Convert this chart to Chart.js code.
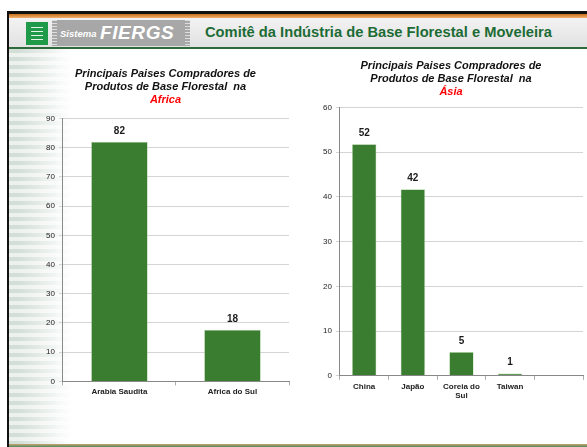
<!DOCTYPE html>
<html lang="pt-BR">
<head>
  <meta charset="UTF-8">
  <title>Comitê da Indústria de Base Florestal e Moveleira</title>
  <script src="https://cdn.jsdelivr.net/npm/chart.js"></script>
  <style>
    html, body { margin: 0; padding: 0; background: #fff; }
    body { width: 587px; height: 447px; position: relative; overflow: hidden; font-family: "Liberation Sans", Arial, sans-serif; }
    #frame-left { position: absolute; left: 7px; top: 11px; width: 2px; height: 436px; background: #111; }
    #frame-top { position: absolute; left: 7px; top: 11px; width: 580px; height: 3px; background: #111; }
    #frame-orange { position: absolute; left: 9px; top: 14px; width: 578px; height: 4px; background: linear-gradient(#c8701c, #f0b070); }
    #header { position: absolute; left: 9px; top: 18px; width: 578px; height: 29px; background: linear-gradient(#f2f2f2, #e2e2e2); }
    #header-line { position: absolute; left: 9px; top: 47px; width: 578px; height: 2px; background: #2e6b3c; }
    #stripes { position: absolute; left: 9px; top: 49px; width: 62px; height: 395px;
      background: repeating-linear-gradient(180deg, rgba(200,214,205,0.8) 0 4px, rgba(232,238,234,0.8) 4px 8px);
      -webkit-mask-image: linear-gradient(90deg, #000 15%, transparent 100%); mask-image: linear-gradient(90deg, #000 15%, transparent 100%); }
    #bottom-line { position: absolute; left: 9px; top: 444px; width: 578px; height: 3px; background: linear-gradient(#c9a46c, #4f8a63); }
    #logo-green { position: absolute; left: 26px; top: 22px; width: 22px; height: 23px; background: #1e9a48; }
    #logo-green i { position: absolute; left: 5px; width: 12px; height: 1px; background: #e8f4ea; }
    #logo-box { position: absolute; left: 52px; top: 20px; width: 138px; height: 26px; background: #a7a7a7; color: #fff; font-style: italic; font-weight: bold; }
    #logo-box .s { position: absolute; left: 8px; top: 8px; font-size: 9.5px; }
    #logo-box .f { position: absolute; left: 48px; top: 2px; font-size: 19px; letter-spacing: 0.6px; }
    #logo-box .r { position: absolute; right: 0; top: 0; width: 5px; height: 26px; background: repeating-linear-gradient(180deg, #ddd 0 1px, #a7a7a7 1px 3px); }
    #logo-box .l { position: absolute; left: 0; top: 0; width: 5px; height: 26px; background: repeating-linear-gradient(180deg, #ddd 0 1px, #a7a7a7 1px 3px); }
    #head-title { position: absolute; left: 205px; top: 24px; font-size: 14.7px; font-weight: bold; color: #1d6b35; white-space: nowrap; }
    .chart-box { position: absolute; }
    #box-africa { left: 28px; top: 58px; width: 268px; height: 349px; }
    #box-asia { left: 306px; top: 52px; width: 281px; height: 359px; }
  </style>
</head>
<body>
  <div id="frame-top"></div>
  <div id="frame-orange"></div>
  <div id="header"></div>
  <div id="header-line"></div>
  <div id="stripes"></div>
  <div id="frame-left"></div>
  <div id="bottom-line"></div>
  <div id="logo-green"><i style="top:5px"></i><i style="top:9px"></i><i style="top:13px"></i><i style="top:17px"></i></div>
  <div id="logo-box"><div class="l"></div><span class="s">Sistema</span><span class="f">FIERGS</span><div class="r"></div></div>
  <div id="head-title">Comitê da Indústria de Base Florestal e Moveleira</div>

  <div class="chart-box" id="box-africa"><canvas id="chart-africa"></canvas></div>
  <div class="chart-box" id="box-asia"><canvas id="chart-asia"></canvas></div>

  <script>
    // dados
    const africaPaises = ['Arabia Saudita', 'Africa do Sul'];
    const africaValores = [82, 17.6];
    const asiaPaises = ['China', 'Japão', ['Coreia do', 'Sul'], 'Taiwan', ''];
    const asiaValores = [51.8, 41.7, 5.3, 0.5, null];

    const titulo = ['Principais Paises Compradores de', 'Produtos de Base Florestal  na'];
    const verde = '#3b7d30';
    const fonte = '"Liberation Sans", Arial, sans-serif';

    // escreve o valor em cima de cada barra
    const rotulos = {
      id: 'rotulos',
      afterDatasetsDraw(chart) {
        const ctx = chart.ctx;
        const meta = chart.getDatasetMeta(0);
        ctx.save();
        ctx.font = 'bold 10px ' + fonte;
        ctx.fillStyle = '#1a1a1a';
        ctx.textAlign = 'center';
        ctx.textBaseline = 'bottom';
        meta.data.forEach((bar, i) => {
          const v = chart.data.datasets[0].data[i];
          if (v == null) return;
          ctx.fillText(Math.max(1, Math.round(v)), bar.x, bar.y - 6);
        });
        ctx.restore();
      }
    };

    function montar(id, labels, data, max, regiao, pad, subPad) {
      return new Chart(document.getElementById(id), {
        type: 'bar',
        data: {
          labels,
          datasets: [{ data, backgroundColor: verde, borderColor: '#a9cf9c', borderWidth: 0.6, categoryPercentage: 1, barPercentage: 0.5 }]
        },
        options: {
          responsive: true,
          maintainAspectRatio: false,
          animation: false,
          layout: { padding: pad },
          plugins: {
            legend: { display: false },
            tooltip: { enabled: false },
            title: {
              display: true, text: titulo, color: '#111',
              font: { family: fonte, size: 11, weight: 'bold', style: 'italic', lineHeight: 1.15 },
              padding: { top: 0, bottom: 0 }
            },
            subtitle: {
              display: true, text: regiao, color: '#ff0000',
              font: { family: fonte, size: 11, weight: 'bold', style: 'italic' },
              padding: { top: 0, bottom: subPad }
            }
          },
          scales: {
            x: {
              grid: { display: true, drawOnChartArea: false, tickLength: 4, color: '#aaa' },
              border: { color: '#888' },
              ticks: { color: '#222', font: { family: fonte, size: 8, weight: 'bold' }, padding: 2, maxRotation: 0 }
            },
            y: {
              min: 0, max,
              grid: { color: '#d4d4d4', tickLength: 4 },
              border: { color: '#888' },
              ticks: { stepSize: 10, color: '#222', font: { family: fonte, size: 8 }, padding: 4 }
            }
          }
        },
        plugins: [rotulos]
      });
    }

    montar('chart-africa', africaPaises, africaValores, 90, 'Africa', { left: 14, right: 7, top: 10, bottom: 8 }, 12);
    montar('chart-asia', asiaPaises, asiaValores, 60, 'Ásia', { left: 13, right: 4, top: 8, bottom: 8 }, 9);
  </script>
</body>
</html>
